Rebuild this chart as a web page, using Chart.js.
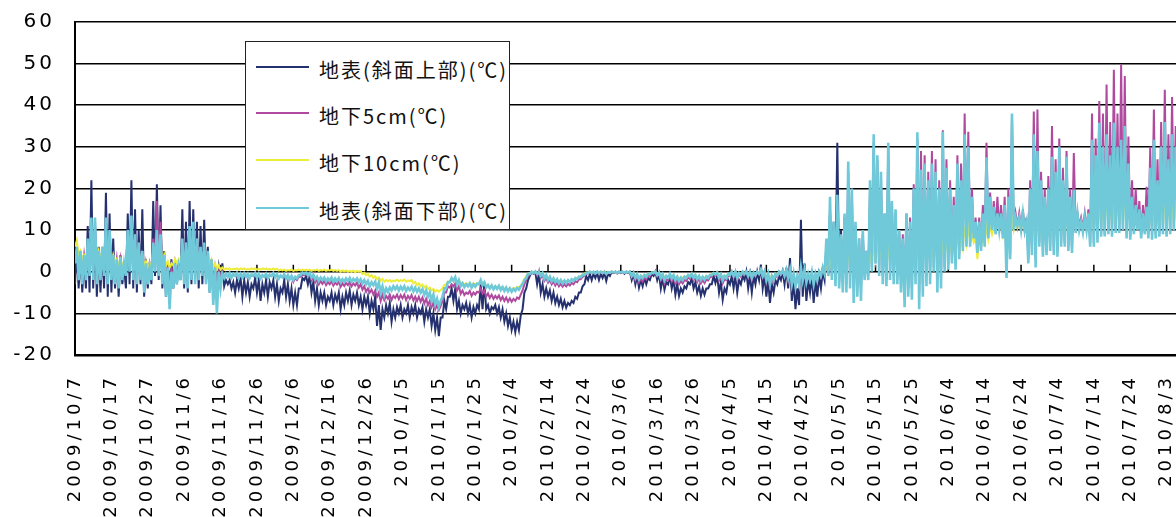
<!DOCTYPE html>
<html>
<head>
<meta charset="utf-8">
<script src="https://cdn.jsdelivr.net/npm/chart.js@4/dist/chart.umd.min.js"></script>
<style>
  html, body { margin: 0; padding: 0; background: #fff; overflow: hidden; }
  #wrap { position: relative; width: 1215px; height: 517px; }
  #legend {
    position: absolute; left: 245px; top: 41px; width: 263px; height: 187px;
    border: 1.5px solid #222; background: #fff;
    font-family: "Noto Sans CJK JP", sans-serif; font-size: 20px; letter-spacing: 2px; color: #111;
  }
  .row { position: absolute; left: 0; width: 100%; height: 30px; }
  .swatch { position: absolute; left: 10px; top: 14px; width: 53px; height: 2px; }
  .label { position: absolute; left: 73px; top: 3px; line-height: 30px; white-space: nowrap; }
</style>
</head>
<body>
<div id="wrap">
  <canvas id="chart" width="1215" height="517" style="width:1215px;height:517px"></canvas>
  <div id="legend"></div>
</div>
<script>
// tick labels, one every 10 days starting 2009/10/7
const dateTicks = [
    '2009/10/7', '2009/10/17', '2009/10/27', '2009/11/6', '2009/11/16', '2009/11/26',
    '2009/12/6', '2009/12/16', '2009/12/26', '2010/1/5', '2010/1/15', '2010/1/25',
    '2010/2/4', '2010/2/14', '2010/2/24', '2010/3/6', '2010/3/16', '2010/3/26',
    '2010/4/5', '2010/4/15', '2010/4/25', '2010/5/5', '2010/5/15', '2010/5/25',
    '2010/6/4', '2010/6/14', '2010/6/24', '2010/7/4', '2010/7/14', '2010/7/24',
    '2010/8/3', '2010/8/13'
];

const seriesLabels = ['地表(斜面上部)(℃)', '地下5cm(℃)', '地下10cm(℃)', '地表(斜面下部)(℃)'];
const seriesColors = ['#25316f', '#b04a9e', '#eeec3a', '#6fc9d9'];
const seriesWidths = [2, 2, 2, 2.6];

// readings: two per day (night low, day high), one line = 10 days
const surfaceUpper = [
    -3,5, -4,4, -5,3, -4,11, -5,22, -4,10, -6,6, -5,5, -4,19, -6,14,
    -5,8, -4,3, -6,4, -3,1, -4,14, -3,22, -4,15, -5,10, -3,15, -6,3,
    -4,2, -3,17, -1,21, -2,16, -4,5, -6,2, -5,3, -4,1, -3,2, -2,15,
    -4,12, -5,17, -3,15, -2,12, -4,11, -3,12.5, -2,6, -5,3, -4,1, -3,1,
    -3,2, -3.5,-2, -3,-2, -4,-2.5, -5,-2, -4,-1.5, -6,-2, -5,-2.5, -6,-3, -4,-1.5,
    -5,-2, -7,-3, -5,-2, -6,-2.5, -4,-2, -6,-3, -7,-4, -5,-2, -6,-3, -7,-4,
    -8,-5, -8,-4, -4,-1.5, -2,-1, -3,-1, -5,-2.5, -7,-4, -8,-5, -7,-5, -8,-6,
    -7,-5, -8,-5.5, -7,-5, -9,-6, -8,-5, -7,-4.5, -8,-5.5, -7,-5, -8,-6, -9,-6,
    -8,-6, -10,-7, -9,-6, -13,-8, -14,-9, -11,-8, -10,-7.5, -12,-9, -11,-8.5, -10,-8,
    -11,-9, -10,-8, -11,-8.5, -10,-8, -11,-9, -10,-8.5, -12,-9, -11,-9, -13,-10, -14,-11,
    -15.5,-11, -11,-7, -9,-6, -6,-4, -7,-4, -9,-7, -10,-8, -9,-7.5, -10,-8, -11,-8.5,
    -10,-8, -9,-3, -9,-2.5, -9,-8, -10,-8.5, -9,-8, -10,-8.5, -11,-9, -12,-10, -13,-11,
    -14,-12, -14.5,-12, -14,-10.5, -9,-5, -4,-2, -1,0, -0.5,0, -3,-0.5, -5,-3, -6,-4,
    -6,-4.5, -7,-5, -7.5,-6, -8,-6.5, -8.5,-7, -8.6,-7.5, -8,-7, -7.5,-6, -6.5,-5, -5,-3.5,
    -3,-1, -2,-0.5, -2,-0.5, -1.5,-0.3, -2,-0.5, -1.5,-0.3, -2.2,-0.5, -1,0, -0.3,0, -0.4,0,
    -0.3,0, -0.5,0, -0.3,0, -2,-0.5, -3,-1, -3.8,-2, -3.5,-1.5, -3,-1.5, -2,-0.5, -1,0,
    -2,-0.5, -4,-1.5, -4.3,-2.5, -3,-1, -4,-2, -5.5,-3, -5.8,-4, -5,-3.5, -4,-2.5, -3,-1.5,
    -4,-2.5, -5,-3.5, -5.8,-4, -5.5,-4, -4,-3, -3,-1, -2.7,-1, -5,-2.5, -6.7,-4, -5,-2,
    -3,-1, -4,-1, -5,-2, -3,-1, -2,0, -4,-1, -5,-1, -3,0, -2,1.7, -4,-1,
    -6,-2, -7.5,-3, -5,-2, -3,-1, -2,0, -3,1, -4,3.3, -7,-2, -9,-4, -8,12.5,
    -6,2, -7,-2, -5,-1, -7.5,-2, -6,-1, -4,0, -2,5, -1,14, 0,12, 1,31,
    -1,10, -2,13
];

const soil5cm = [
    3,5, 1,5, 0,4, 0,6, 1,10, 0,12, -1,5, 0,6, 1,12, -1,9,
    0,4, -1,3, -1,3, 0,2, 1,9, 2,13, 0,9, -1,7, 0,5, -2,2,
    -1,2, 0,8, 2,17, 1,12, -1,4, -3,2, -4,1, -2,2, -1,2, 0,7,
    -1,7, -1,10, 0,11, -1,8, 0,6, 0,6, -1,4, -2,2, -3,1, -2,0,
    -1,0, -1.2,-0.7, -1.1,-0.7, -1.2,-0.8, -1,-0.6, -1.3,-0.8, -1.2,-0.7, -1.1,-0.7, -1.3,-0.8, -1,-0.6,
    -1.2,-0.7, -1.4,-0.9, -1.2,-0.8, -1.3,-0.8, -1,-0.6, -1.2,-0.8, -1.5,-1, -1.3,-0.9, -1.5,-1, -1.7,-1.1,
    -2.4,-1.5, -2,-1.2, -1.2,-0.7, -0.8,-0.5, -1,-0.6, -2,-1.2, -2.6,-1.8, -3,-2.2, -2.9,-2.2, -3.2,-2.5,
    -3,-2.3, -3.3,-2.6, -3.1,-2.4, -3.6,-2.8, -3.4,-2.7, -3.2,-2.5, -3.5,-2.8, -3.3,-2.6, -3.8,-3, -4.3,-3.5,
    -4.8,-4, -5,-4.3, -5.5,-4.5, -6,-5, -7,-5.5, -6.8,-5.8, -6.5,-5.5, -6.8,-5.8, -6.3,-5.5, -6.6,-5.6,
    -6.4,-5.5, -6.8,-5.8, -6.5,-5.6, -6.9,-6, -7,-6, -7.2,-6.2, -7.6,-6.5, -8,-7, -8.5,-7.4, -9,-8,
    -9.2,-8.2, -7,-5, -5,-3.5, -3.8,-3, -3.5,-2.8, -4.5,-3.5, -5.3,-4.5, -5.6,-5, -5.3,-4.6, -5.8,-5,
    -5.5,-4.8, -5,-4, -5.2,-4.5, -6,-5.2, -6.3,-5.5, -6.5,-5.8, -6.4,-5.7, -6.8,-6, -7,-6.2, -7.2,-6.4,
    -7.2,-6.5, -7,-6.2, -6.5,-5.5, -4.5,-3, -2,-1, -0.6,-0.1, -0.4,0, -0.8,-0.3, -1.5,-0.8, -2.2,-1.5,
    -2.6,-2, -3,-2.3, -3.3,-2.6, -3.5,-2.9, -3.6,-3, -3.5,-2.9, -3.3,-2.7, -3,-2.3, -2.5,-1.8, -1.8,-1.2,
    -1,-0.5, -0.4,0, -0.3,0, -0.5,-0.1, -0.3,0, -0.4,0, -0.6,-0.2, -0.3,0, -0.2,0, -0.3,0,
    -0.2,0, -0.3,0, -0.2,0, -1.3,-0.5, -2,-1, -2.5,-1.6, -2.3,-1.4, -1.8,-0.9, -1,-0.4, -0.4,0,
    -1,-0.4, -2,-1, -2.8,-1.8, -2,-1, -2.3,-1.4, -2.8,-1.9, -3,-2.2, -2.8,-2, -2.2,-1.3, -1.7,-0.9,
    -2,-1.2, -2.5,-1.6, -2.8,-2, -2.7,-1.9, -2.1,-1.3, -1.2,-0.5, -0.9,-0.3, -2,-1, -2.8,-1.8, -2,-1,
    -1,0, -1.3,0, -2,-0.5, -1.2,0, -0.7,0, -1.3,0, -2,-0.5, -1,0, -0.5,0.5, -1.3,0,
    -2.5,-1, -3.5,-1.5, -2.5,-1, -1.3,0, -0.6,0.3, -1.2,0.3, -2,0.3, -3,-1, -3.5,-1.5, -3,0.5,
    -2,0, -2.6,-1, -2,-0.3, -2.8,-1, -2,0, -1,1, -0.5,6, -0.5,15, -1,11, -2,17,
    -2.5,8, -3,13, -3,24, -2,19, -4,11, -3.5,8, -4,9, -1,5, -1,20, 1,31,
    2,27, 0,23, -1,14, -2,30, 0,16.5, -1,14, -1,10, -3,9, -5,14, -4,13,
    -4,21, -1,32, -5,29, -3,28, -1,24, -1,29, 1,27, -2,22, -2,34, 1,27,
    2,22, 3,18, 2,28, 4,26, 6,38, 7,33.6, 7,20, 8,13, 6,13, 6,16,
    7,31, 9,19, 10,17, 10,18, 10,16, 9,18, 1,20, 4,37, 10,14, 11,14,
    10,15, 10,13, 3,22, 5,38.5, 3,39, 7,24, 5,20, 5,23, 6,35, 5,27,
    5,32, 7,25, 7,29, 6,20, 5.5,28.5, 10,14, 11,13, 10.5,14, 10,15, 7,38,
    7,32, 8,41, 9,38, 9,45, 10,36, 9,48.5, 10,38, 10,49.8, 10,47, 9,32.5,
    8.5,22, 10,20, 10.5,17, 9,16, 10,20.4, 9,30, 8.5,39, 9,27, 9,36, 10,43.7,
    9,33, 10,42, 10,35
];

const soil10cm = [
    6,7.5, 4,5, 3,4, 3,5, 3,7, 4,8, 3,5, 3,5, 3,8, 3,6,
    2,4, 2,3, 1.5,3, 1.5,2.5, 2,6, 3,8, 3,6, 2,5, 2,4, 1.5,2.5,
    1,2, 1.5,5, 3,8, 3,7, 2,4, 1.5,2.5, 1,2, 1.5,3, 2,3, 2,5,
    2,5, 2.5,6, 3,7, 3,5, 3,4.5, 3,5, 2,4, 2,3, 1,2, 0.5,1.5,
    0.5,1, 0.5,0.8, 0.6,0.8, 0.5,0.7, 0.6,0.8, 0.5,0.8, 0.6,0.8, 0.5,0.7, 0.5,0.8, 0.6,0.8,
    0.5,0.7, 0.5,0.8, 0.6,0.8, 0.5,0.7, 0.5,0.8, 0.5,0.7, 0.3,0.5, 0.3,0.5, 0.2,0.4, 0.3,0.5,
    0.2,0.4, 0.3,0.5, 0.3,0.5, 0.3,0.5, 0.3,0.5, 0.2,0.4, 0.3,0.5, 0.2,0.4, 0.3,0.5, 0.2,0.4,
    0.3,0.5, 0.2,0.4, 0.2,0.4, 0,0.3, 0.1,0.3, 0,0.2, 0,0.3, -0.1,0.2, 0,0.2, -0.5,-0.2,
    -0.8,-0.5, -1.2,-0.8, -1.5,-1.1, -1.8,-1.4, -2.2,-1.7, -2.4,-2, -2.3,-2, -2.4,-2.1, -2.2,-1.9, -2.3,-2,
    -2.2,-1.9, -2.4,-2.1, -2.3,-2, -2.8,-2.4, -3.2,-2.8, -3.5,-3.1, -3.8,-3.4, -4.2,-3.8, -4.5,-4.1, -4.8,-4.4,
    -4.8,-4.4, -4,-3.2, -3,-2.4, -2.4,-2, -2.2,-1.9, -2.4,-2.1, -2.8,-2.5, -3.1,-2.8, -3,-2.7, -3.1,-2.8,
    -3,-2.7, -3,-2.6, -3.1,-2.8, -3.5,-3.1, -3.7,-3.3, -3.9,-3.5, -3.8,-3.4, -4,-3.6, -4.2,-3.8, -4.3,-3.9,
    -4.3,-3.9, -4.1,-3.7, -3.8,-3.4, -2.5,-1.8, -1,-0.5, -0.3,0, -0.2,0, -0.3,0, -0.6,-0.3, -1.2,-0.8,
    -1.6,-1.2, -2,-1.6, -2.2,-1.9, -2.4,-2.1, -2.5,-2.2, -2.4,-2.1, -2.2,-1.9, -1.9,-1.6, -1.5,-1.2, -1,-0.7,
    -0.5,-0.2, -0.2,0, -0.2,0, -0.3,0, -0.2,0, -0.2,0, -0.3,0, -0.2,0, -0.1,0, -0.2,0,
    -0.1,0, -0.2,0, -0.1,0, -0.6,-0.2, -1,-0.6, -1.3,-0.9, -1.2,-0.8, -0.9,-0.5, -0.5,-0.2, -0.2,0,
    -0.5,-0.2, -1,-0.6, -1.5,-1, -1.1,-0.7, -1.2,-0.8, -1.5,-1.1, -1.7,-1.3, -1.5,-1.1, -1.2,-0.8, -0.9,-0.5,
    -1.1,-0.7, -1.4,-1, -1.6,-1.2, -1.5,-1.1, -1.1,-0.7, -0.6,-0.3, -0.4,-0.1, -1,-0.6, -1.5,-1, -1.1,-0.6,
    -0.5,0, -0.6,0, -1,-0.3, -0.6,0, -0.3,0, -0.6,0, -1,-0.2, -0.5,0, -0.2,0.3, -0.6,0,
    -1.2,-0.5, -1.8,-0.8, -1.2,-0.5, -0.6,0, -0.3,0.2, -0.5,0.2, -0.8,0.2, -1.5,-0.8, -2,-1.2, -1.5,-0.5,
    -1,-0.3, -1.3,-0.6, -1,-0.3, -1.5,-0.8, -1,0, -0.5,0.5, 0,2, 0,4, 0.5,3, 0.5,4,
    0,2, 0,3, 0.5,5, 1,4, 0,2, 0,1.5, 0,2, 0.5,2, 1,4, 2,7,
    3,7, 3,6, 2,4, 2,7, 2,5, 1.5,4, 1,3, 0.5,2, 0,3, 0.5,3,
    1,5, 2,8, 2,7, 2,7, 2,6, 3,7, 3,7, 2,6, 3,8, 4,8,
    4,7, 4,7, 5,9, 5,9, 6,11, 7,11, 7,9, 7,8, 3,8, 6,9,
    7,11, 8,11, 9,11, 10,12, 10,12, 9,12, 5,11, 6,13, 10,12, 10.5,12,
    10,12.5, 10,12, 7,12, 8,14, 7,14, 8,13, 8,13, 8,14, 9,19, 9,15,
    9,16, 9,14, 9,15, 9,13, 9,13, 11,12.5, 11,12, 11,12.5, 11,13, 10,16,
    10,16, 10.5,18, 11,18, 11,20, 11,18, 11,19, 11.5,18, 11.5,19, 12,20, 11,19.7,
    10.5,14, 11,13, 11,13, 10.5,13, 11,14, 10.5,16, 10.5,18, 11,15, 11,17, 11,19,
    11,17, 11,18, 11.5,17
];

const surfaceLower = [
    2,6, -2,5, -3,4, -2,8, -1,13, -2,13, -3,5, -2,6, -1,13, -3,10,
    -2,4, -3,3, -4,3.5, -2,2, -1,10, 0,13.5, -2,9, -3,7, -2,5, -5,2,
    -3,1, -2,7, 0,10, -1,9, -3,4, -6,1, -9,0, -4,2, -3,1, -2,8,
    -3,7, -4,11, -2,12, -3,8, -2,6, -1,7, -3,5, -5,3, -8,1, -10,0,
    -4,-0.5, -1.5,-0.5, -1.2,-0.3, -1.4,-0.5, -1,-0.3, -1.5,-0.5, -1.3,-0.4, -1.2,-0.5, -1.5,-0.6, -1,-0.3,
    -1.4,-0.5, -1.6,-0.8, -1.2,-0.5, -1.5,-0.7, -1,-0.3, -1.3,-0.6, -1.6,-0.9, -1.3,-0.6, -1.6,-0.8, -1.8,-1,
    -2,-1.2, -1.6,-0.8, -0.8,-0.2, -0.5,-0.2, -0.8,-0.3, -1.4,-0.7, -1.8,-1.2, -2.2,-1.4, -2,-1.4, -2.3,-1.6,
    -2.1,-1.4, -2.4,-1.6, -2.2,-1.5, -2.5,-1.8, -2.4,-1.6, -2.2,-1.5, -2.4,-1.7, -2.2,-1.6, -2.5,-1.8, -2.8,-2,
    -3,-2.2, -3.5,-2.5, -3.2,-2.4, -4,-2.6, -5,-3.5, -5.5,-4, -4.8,-3.8, -4.5,-3.5, -4.2,-3.5, -4.5,-3.6,
    -4.3,-3.5, -4.6,-3.8, -4.4,-3.6, -4.7,-3.8, -4.8,-4, -5,-4.2, -5.5,-4.5, -6,-5, -7,-5.5, -7.8,-6.5,
    -8.4,-7, -6,-4, -4,-2.5, -2.5,-1.5, -2.2,-1.3, -3,-2, -3.5,-2.8, -3.7,-3, -3.5,-2.8, -3.8,-3,
    -3.6,-2.9, -3,-2, -3.2,-2.5, -3.8,-3.2, -4,-3.3, -4.2,-3.5, -4.1,-3.4, -4.4,-3.7, -4.6,-3.8, -4.7,-4,
    -4.8,-4.1, -4.6,-3.9, -4.3,-3.5, -3,-2, -1.5,-0.5, -0.5,0, -0.3,0, -0.5,-0.1, -1,-0.3, -1.6,-0.8,
    -2,-1.2, -2.3,-1.6, -2.5,-1.8, -2.7,-2, -2.8,-2.1, -2.7,-2, -2.5,-1.8, -2.2,-1.5, -1.8,-1.2, -1.3,-0.7,
    -0.8,-0.3, -0.3,0, -0.2,0, -0.4,0, -0.2,0, -0.3,0, -0.5,-0.1, -0.2,0, -0.1,0, -0.2,0,
    -0.1,0, -0.2,0, -0.1,0, -1,-0.3, -1.5,-0.6, -1.8,-1, -1.5,-0.8, -1.2,-0.5, -0.6,-0.2, -0.3,0,
    -0.8,-0.2, -1.5,-0.6, -2,-1, -1.4,-0.5, -1.6,-0.8, -2,-1.2, -2.2,-1.4, -2,-1.2, -1.5,-0.8, -1.2,-0.5,
    -1.5,-0.8, -1.8,-1, -2,-1.2, -1.9,-1.1, -1.5,-0.8, -0.8,-0.3, -0.6,-0.2, -1.4,-0.6, -2,-1, -1.5,-0.5,
    -0.8,0, -1,0, -1.5,-0.3, -0.8,0, -0.5,0, -1,0, -1.5,-0.2, -0.8,0, -0.5,0.5, -1,0,
    -2,-0.5, -3,-1, -2,-0.5, -1,0, -0.5,0.3, -1,0.5, -1.5,0.5, -3,-0.5, -3.5,-1, -3,1,
    -2,0.5, -2.5,-0.5, -2,0, -3,-0.5, -2,0, -1,1, -0.5,8, -1,18, -2,12, -3.5,18.5,
    -4,9, -5,14, -5,26.5, -4,20, -7.5,12, -6,8, -7,10, -2,5, -2,22, 0,33,
    2,28, -1,24, -3,14, -3.5,31, -2,17, -3,15, -3,10, -5,8, -8.5,14, -6,12,
    -6.7,20, -3,33.5, -9,24.5, -6,26, -3.5,22, -3,26, 0,24, -5,20, -4,33.6, 0,25,
    0.5,20, 2,16, 0.5,26, 3,22, 5,33, 6,30, 6,18, 8,12, 4.5,12, 5,14,
    6,27.5, 8,18, 10,15.6, 9,14, 10,14, 8,16, -1.5,18, 3,38, 10,13, 11,13,
    10,14, 10,12, 2,20, 4,33, 1,29, 6,22, 3.6,18, 4,20, 5,27.6, 4,24,
    3.6,30, 6,22, 6,27.6, 5,18, 4.5,19.7, 9.3,14, 10,12, 9.5,13, 10,14, 6,31.7,
    6,28, 7,35.8, 8.4,30, 8.5,33, 9,28, 8.4,35.8, 9.3,30, 9.3,31.7, 10,35, 8,26,
    7.7,18, 9,16, 10,15, 8,14, 9,15.6, 8,25, 7.7,31.7, 8,22, 8.4,30, 9,36,
    8.4,27, 9,33, 10,30
];

const seriesValues = [surfaceUpper, soil5cm, soil10cm, surfaceLower];

// two readings per day -> x in days since 2009/10/7
function toPoints(values) {
    return values.map((v, i) => ({ x: i / 2, y: v }));
}

// Excel-like wide digits on the value axis (canvas resizes clear it, so set before each draw)
const textSpacing = {
    id: 'textSpacing',
    beforeDraw(chart) { chart.ctx.letterSpacing = '3px'; },
};

// small tick marks standing on the 0 line
const zeroLineTicks = {
    id: 'zeroLineTicks',
    beforeDatasetsDraw(chart) {
        const { ctx, scales: { x, y } } = chart;
        const y0 = y.getPixelForValue(0);
        ctx.save();
        ctx.strokeStyle = '#000';
        ctx.lineWidth = 1.5;
        x.ticks.forEach((t) => {
            const px = x.getPixelForValue(t.value);
            ctx.beginPath();
            ctx.moveTo(px, y0);
            ctx.lineTo(px, y0 - 7);
            ctx.stroke();
        });
        ctx.restore();
    },
};

// date labels hanging vertically from the axis line, read bottom to top
const hangingDateLabels = {
    id: 'hangingDateLabels',
    afterDraw(chart) {
        const { ctx, scales: { x } } = chart;
        ctx.save();
        ctx.letterSpacing = '4px';
        ctx.font = '18px "DejaVu Sans"';
        ctx.fillStyle = '#000';
        ctx.textAlign = 'right';
        ctx.textBaseline = 'middle';
        x.ticks.forEach((t) => {
            const label = dateTicks[Math.round(t.value / 10)];
            if (!label) return;
            ctx.save();
            ctx.translate(x.getPixelForValue(t.value), x.top + 19);
            ctx.rotate(-Math.PI / 2);
            ctx.fillText(label, 0, 0);
            ctx.restore();
        });
        ctx.restore();
    },
};

const datasets = seriesValues.map((values, i) => ({
    label: seriesLabels[i],
    data: toPoints(values),
    borderColor: seriesColors[i],
    borderWidth: seriesWidths[i],
    pointRadius: 0,
    tension: 0,
    fill: false,
    order: seriesValues.length - i,
}));

new Chart(document.getElementById('chart'), {
    type: 'line',
    data: { datasets },
    plugins: [textSpacing, zeroLineTicks, hangingDateLabels],
    options: {
        responsive: false,
        animation: false,
        events: [],
        layout: { padding: { top: 22, right: 12, left: 0, bottom: 0 } },
        plugins: { legend: { display: false }, tooltip: { enabled: false } },
        scales: {
            x: {
                type: 'linear',
                min: 0,
                max: 310,
                // fixed band for the labels; no extra side padding
                afterFit: (scale) => {
                    scale.height = 162;
                    scale.paddingLeft = 0;
                    scale.paddingRight = 0;
                },
                grid: { display: false },
                border: { display: true, color: '#000', width: 2.5 },
                ticks: { stepSize: 10, autoSkip: false, display: false },
            },
            y: {
                min: -20,
                max: 60,
                afterFit: (scale) => {
                    scale.width = 75;
                    scale.paddingTop = 0;
                    scale.paddingBottom = 0;
                },
                grid: { color: '#000', lineWidth: 1.6, drawTicks: false },
                border: { color: '#000', width: 2 },
                ticks: {
                    stepSize: 10,
                    padding: 20,
                    color: '#000',
                    font: { family: 'DejaVu Sans', size: 20 },
                },
            },
        },
    },
});

// legend box sitting inside the plot, as in the original sheet
const legendEl = document.getElementById('legend');
const legendRowTops = [10, 56, 103, 151];
seriesLabels.forEach((label, i) => {
    const row = document.createElement('div');
    row.className = 'row';
    row.style.top = legendRowTops[i] + 'px';
    row.innerHTML = `<div class="swatch" style="background:${seriesColors[i]}"></div><div class="label">${label}</div>`;
    legendEl.appendChild(row);
});
</script>
</body>
</html>
